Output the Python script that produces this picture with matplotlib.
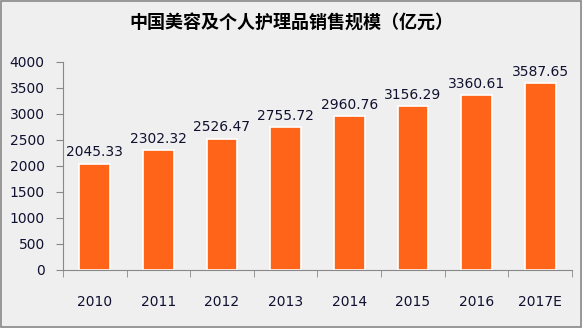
import numpy as np
import matplotlib.pyplot as plt

plt.rcParams['font.family'] = ['Noto Sans CJK SC', 'DejaVu Sans']

years = ['2010', '2011', '2012', '2013', '2014', '2015', '2016', '2017E']
sales = [2045.33, 2302.32, 2526.47, 2755.72, 2960.76, 3156.29, 3360.61, 3587.65]
yticks = [0, 500, 1000, 1500, 2000, 2500, 3000, 3500, 4000]

bg = '#efefef'
fig = plt.figure(figsize=(5.82, 3.28), dpi=100, facecolor=bg)
ax = fig.add_axes([0.108, 0.177, 0.875, 0.634], facecolor=bg)

x = np.arange(len(years))
ax.bar(x, sales, width=0.48, color='#ff6418', edgecolor='white', linewidth=1.2)
for xi, v in zip(x, sales):
    ax.text(xi, v + 80, f'{v:.2f}', ha='center', va='bottom', fontsize=10,
            color='#101030', family='DejaVu Sans')

ax.set_xlim(-0.5, len(years) - 0.5)
ax.set_ylim(0, 4000)
ax.set_yticks(yticks)
ax.set_yticklabels([str(t) for t in yticks], fontsize=10, color='#101030', family='DejaVu Sans')
ax.set_xticks(x)
ax.set_xticklabels(years, fontsize=10, color='#101030', family='DejaVu Sans')
ax.tick_params(axis='x', length=0, pad=18)
ax.set_xticks(np.arange(len(years) + 1) - 0.5, minor=True)
ax.tick_params(axis='x', which='minor', length=5, color='#888888')
ax.tick_params(axis='y', length=5, color='#888888', pad=8)

for s in ['top', 'right']:
    ax.spines[s].set_visible(False)
ax.spines['left'].set_color('#888888')
ax.spines['bottom'].set_color('#888888')

fig.text(0.5, 0.93, '中国美容及个人护理品销售规模（亿元）', ha='center', va='center',
         fontsize=13, fontweight='bold', color='black')

# outer border
fig.patches.append(plt.Rectangle((0.002, 0.003), 0.996, 0.994, transform=fig.transFigure,
                                 fill=False, edgecolor='#888888', linewidth=1.2))

fig.savefig('out.png', dpi=100, facecolor=bg)
